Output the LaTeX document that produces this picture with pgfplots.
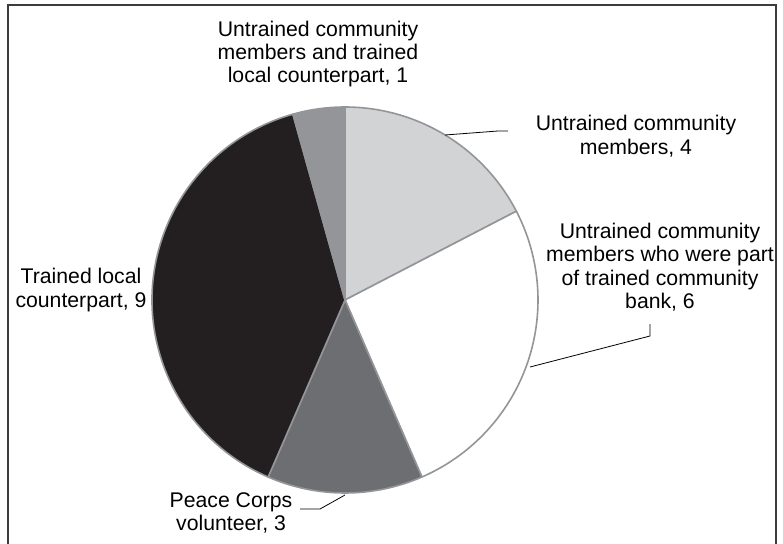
\documentclass[border=0pt]{standalone}
\usepackage{pgfplots}
\usepackage{pgfplotstable}
\pgfplotsset{compat=1.18}
\usepackage{fontspec}
\setmainfont{Liberation Sans}
\definecolor{sliceA}{HTML}{D1D3D4}
\definecolor{sliceB}{HTML}{FFFFFF}
\definecolor{sliceC}{HTML}{6D6E71}
\definecolor{sliceD}{HTML}{231F20}
\definecolor{sliceE}{HTML}{939598}
\definecolor{edge}{HTML}{939598}
\definecolor{frame}{HTML}{3C3C3C}
\pgfplotstableread{
value col
4 sliceA
6 sliceB
3 sliceC
9 sliceD
1 sliceE
}\piedata
\begin{document}
\begin{tikzpicture}
\begin{axis}[
  width=783bp, height=544bp, scale only axis,
  xmin=0, xmax=783, ymin=0, ymax=544, y dir=reverse,
  axis lines=none, ticks=none, clip=true,
]
\addplot[draw=none] coordinates {(0,0) (783,544)};
\def\cx{345}\def\cy{300}
\pgfmathsetmacro{\total}{23}
\pgfmathsetmacro{\startang}{90}
\pgfplotsforeachungrouped \i in {0,...,4}{%
  \pgfplotstablegetelem{\i}{value}\of\piedata
  \let\val\pgfplotsretval
  \pgfplotstablegetelem{\i}{col}\of\piedata
  \let\colname\pgfplotsretval
  \pgfmathsetmacro{\endang}{\startang-\val/\total*360}
  \edef\temp{\noexpand\filldraw[fill=\colname, draw=edge, line width=1.6bp, line join=round]
    (axis cs:\cx,\cy) -- ++(\startang:193bp) arc[start angle=\startang, end angle=\endang, radius=193bp] -- cycle;}
  \temp
  \global\let\startang\endang
}
% leader lines
\draw[black, line width=0.8bp] (axis cs:445,135) -- (axis cs:498,131) -- (axis cs:508,131);
\draw[black, line width=0.8bp] (axis cs:530,367) -- (axis cs:650,336) -- (axis cs:650,324);
\draw[black, line width=0.8bp] (axis cs:345,495) -- (axis cs:320,509) -- (axis cs:300,509);
% frame
\draw[frame, line width=1.6bp] (axis cs:8,546) -- (axis cs:8,5) -- (axis cs:776,5) -- (axis cs:776,546);
% labels
\tikzset{lab/.style={align=center, inner sep=0pt, font=\fontsize{21.3}{23.5}\selectfont, text=black}}
\node[lab] at (axis cs:318,54) {Untrained community\\members and trained\\local counterpart, 1};
\node[lab] at (axis cs:636,136) {Untrained community\\members, 4};
\node[lab] at (axis cs:660,267) {Untrained community\\members who were part\\of trained community\\bank, 6};
\node[lab] at (axis cs:81,290) {Trained local\\counterpart, 9};
\node[lab] at (axis cs:231,513) {Peace Corps\\volunteer, 3};
\end{axis}
\end{tikzpicture}
\end{document}
